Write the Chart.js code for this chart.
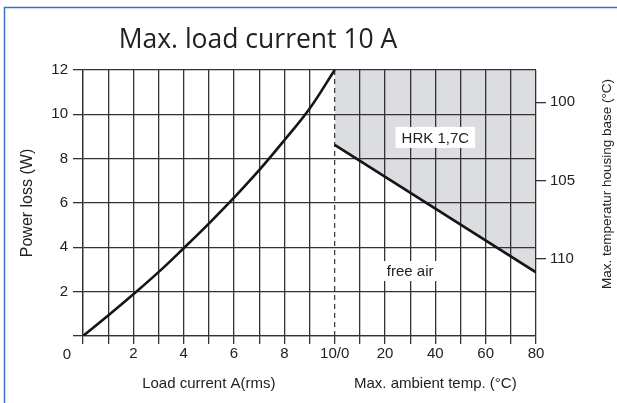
<!DOCTYPE html>
<html>
<head>
<meta charset="utf-8">
<script src="https://cdn.jsdelivr.net/npm/chart.js@4"></script>
<style>
  html, body { margin: 0; padding: 0; background: #fff; }
  canvas { display: block; }
</style>
</head>
<body>
<canvas id="lossChart" width="617" height="403"></canvas>
<script>
// power loss vs load current (A -> W)
const loadCurrent = [0, 1, 2, 3, 4, 5, 6, 7, 8, 9, 10];
const powerLoss = [0, 0.92, 1.88, 2.88, 3.96, 5.07, 6.24, 7.48, 8.83, 10.25, 12];

// free air derating line (ambient °C -> W)
const ambientTemp = [0, 80];
const freeAirLoss = [8.62, 2.87];

// tick labels
const currentTickLabels = ['', '', '2', '', '4', '', '6', '', '8', '', '10/0'];
const tempTickLabels = ['', '20', '', '40', '', '60', '', '80']; // 10..80 °C
const housingTicks = [100, 105, 110];

const maxCurrent = 10;
const tempToX = t => maxCurrent + t / 10;   // right half of the x axis is temperature

const lineCol = '#333';
const textCol = '#222';
const labelFont = { family: '"Liberation Sans", Arial, sans-serif', size: 15 };

// titles, boxed labels and frame that chart.js can't place by itself
const extraText = {
    id: 'extraText',
    afterDraw(chart) {
        const { ctx, chartArea, scales } = chart;
        const x = scales.x, y = scales.y;
        ctx.save();
        ctx.fillStyle = textCol;
        ctx.textAlign = 'center';
        ctx.textBaseline = 'middle';

        ctx.font = '26.5px "Open Sans", sans-serif';
        ctx.fillText('Max. load current 10 A', 258, 40);

        ctx.font = '15px "Liberation Sans", Arial, sans-serif';
        ctx.fillText('Load current A(rms)', x.getPixelForValue(maxCurrent / 2), 384);
        ctx.fillText('Max. ambient temp. (°C)', x.getPixelForValue(tempToX(40)), 384);
        ctx.fillText('0', chartArea.left - 16, 355);

        ctx.save();
        ctx.font = '13.5px "Liberation Sans", Arial, sans-serif';
        ctx.translate(607, 184);
        ctx.rotate(-Math.PI / 2);
        ctx.fillText('Max. temperatur housing base (°C)', 0, 0);
        ctx.restore();

        // white boxed labels
        ctx.font = '15px "Liberation Sans", Arial, sans-serif';
        const boxes = [
            { text: 'HRK 1,7C', t: 40, w: 8.96, h: 21 },
            { text: 'free air', t: 30, w: 2.93, h: 20 }
        ];
        boxes.forEach(b => {
            const cx = x.getPixelForValue(tempToX(b.t));
            const cy = y.getPixelForValue(b.w);
            const bw = ctx.measureText(b.text).width + 12;
            ctx.fillStyle = '#fff';
            ctx.fillRect(cx - bw / 2, cy - b.h / 2, bw, b.h);
            ctx.fillStyle = textCol;
            ctx.fillText(b.text, cx, cy + 1);
        });

        // blue frame
        ctx.strokeStyle = '#3d6fc2';
        ctx.lineWidth = 1.5;
        ctx.beginPath();
        ctx.moveTo(4.5, chart.height);
        ctx.lineTo(4.5, 7.5);
        ctx.lineTo(chart.width, 7.5);
        ctx.stroke();
        ctx.restore();
    }
};

const ctxLoss = document.getElementById('lossChart').getContext('2d');
const lossChart = new Chart(ctxLoss, {
    type: 'line',
    data: {
        datasets: [
            {
                label: 'Power loss',
                data: loadCurrent.map((c, i) => ({ x: c, y: powerLoss[i] })),
                borderColor: '#151515',
                borderWidth: 2.6,
                pointRadius: 0,
                tension: 0.4,
                fill: false
            },
            {
                label: 'free air',
                data: ambientTemp.map((t, i) => ({ x: tempToX(t), y: freeAirLoss[i] })),
                borderColor: '#151515',
                borderWidth: 2.6,
                pointRadius: 0,
                fill: 'end',
                backgroundColor: '#dcdde0'
            },
            {
                label: 'divider',
                data: [{ x: maxCurrent, y: 0 }, { x: maxCurrent, y: 12 }],
                borderColor: '#333',
                borderWidth: 1.2,
                borderDash: [5, 4],
                pointRadius: 0,
                fill: false
            }
        ]
    },
    options: {
        responsive: false,
        animation: false,
        layout: { padding: { top: 70, left: 0, right: 0, bottom: 0 } },
        plugins: {
            legend: { display: false },
            tooltip: { enabled: false },
            filler: { drawTime: 'beforeDraw' }
        },
        scales: {
            x: {
                type: 'linear',
                min: 0,
                max: tempToX(80),
                ticks: {
                    stepSize: 1,
                    autoSkip: false,
                    maxRotation: 0,
                    padding: 1,
                    color: textCol,
                    font: labelFont,
                    callback: v => {
                        const i = Math.round(v);
                        return i <= maxCurrent ? currentTickLabels[i] : tempTickLabels[i - maxCurrent - 1];
                    }
                },
                grid: {
                    color: c => (c.tick && Math.round(c.tick.value) === maxCurrent) ? 'rgba(0,0,0,0)' : lineCol,
                    tickColor: lineCol,
                    lineWidth: 1.3,
                    tickLength: 8
                },
                border: { color: lineCol, width: 1.3 },
                afterFit: s => { s.height = 67; }
            },
            y: {
                min: 0,
                max: 12,
                ticks: {
                    stepSize: 2,
                    padding: 5,
                    color: textCol,
                    font: labelFont,
                    callback: v => v === 0 ? '' : v
                },
                grid: { color: lineCol, lineWidth: 1.3, tickLength: 10 },
                border: { color: lineCol, width: 1.3 },
                title: {
                    display: true,
                    text: 'Power loss (W)',
                    color: textCol,
                    font: { family: labelFont.family, size: 16 },
                    padding: { top: 18, bottom: 0 }
                },
                afterFit: s => { s.width = 83; }
            },
            y2: {
                position: 'right',
                reverse: true,
                min: 97.94,
                max: 114.92,
                afterBuildTicks: s => { s.ticks = housingTicks.map(v => ({ value: v })); },
                ticks: { padding: 4, color: textCol, font: labelFont },
                grid: { drawOnChartArea: false, color: lineCol, lineWidth: 1.3, tickLength: 10 },
                border: { display: false },
                afterFit: s => { s.width = 81; }
            }
        }
    },
    plugins: [extraText]
});
</script>
</body>
</html>
